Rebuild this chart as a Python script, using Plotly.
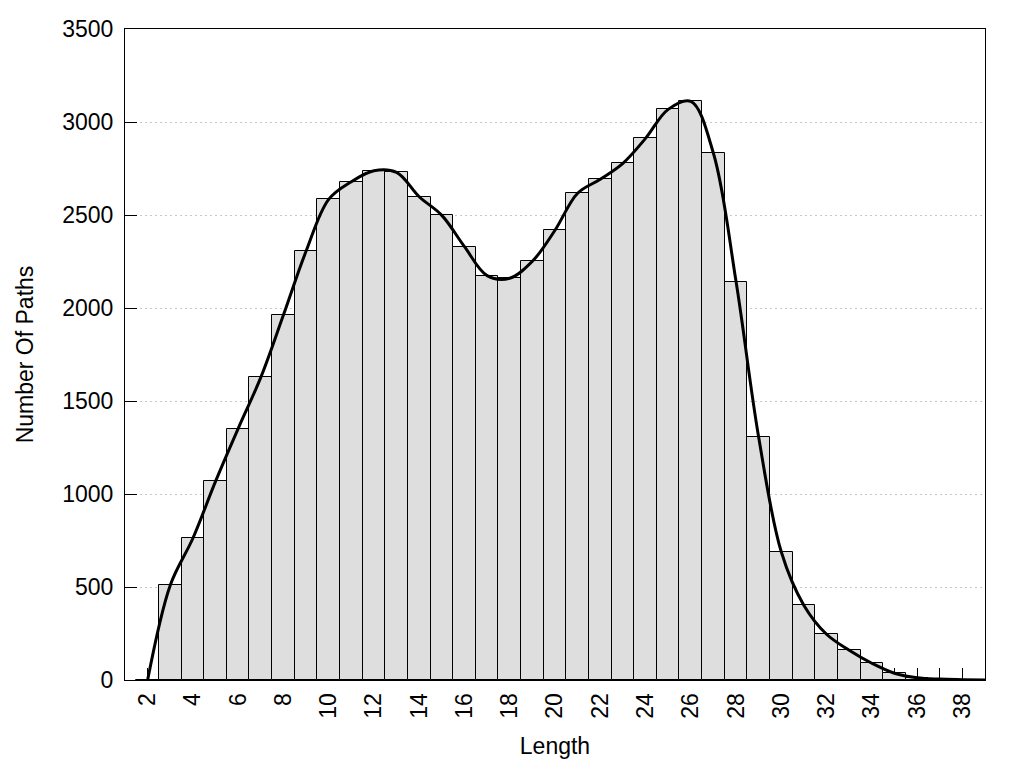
import plotly.graph_objects as go

lengths = list(range(2, 40))
counts = [0, 510, 762, 1068, 1352, 1627, 1962, 2305, 2584, 2679, 2738, 2729,
          2598, 2498, 2330, 2174, 2160, 2251, 2418, 2617, 2692, 2778, 2912,
          3068, 3111, 2832, 2142, 1305, 688, 401, 246, 160, 90, 36, 12, 5, 2, 0]

x_title = "Length"
y_title = "Number Of Paths"

font_family = "Liberation Sans, Arial, sans-serif"

fig = go.Figure()
fig.add_trace(go.Bar(
    x=lengths, y=counts, width=1,
    marker=dict(color="#dedede", line=dict(color="black", width=1)),
    showlegend=False,
))
fig.add_trace(go.Scatter(
    x=lengths, y=counts, mode="lines",
    line=dict(color="black", width=3, shape="spline", smoothing=1.0),
    showlegend=False,
))

fig.update_layout(
    width=1024, height=768,
    margin=dict(l=117, r=47, t=21, b=96),
    plot_bgcolor="white", paper_bgcolor="white",
    bargap=0,
    font=dict(family=font_family, size=23, color="black"),
)
fig.update_xaxes(
    range=[1, 39], tick0=2, dtick=2, tickangle=-90,
    ticks="inside", ticklen=12, tickcolor="black", tickwidth=1,
    minor=dict(dtick=1, tick0=1, ticks="inside", ticklen=12, tickcolor="black", tickwidth=1),
    showline=True, linecolor="black", linewidth=1, mirror=True,
    showgrid=False, zeroline=False, layer="below traces",
    automargin=False,
    ticklabelstandoff=3,
    title=dict(text=x_title, standoff=20, font=dict(size=23)),
    tickfont=dict(size=23),
)
fig.update_yaxes(
    range=[0, 3500], dtick=500,
    ticks="inside", ticklen=12, tickcolor="black", tickwidth=1,
    showline=True, linecolor="black", linewidth=1, mirror=True,
    showgrid=True, gridcolor="#c8c8c8", gridwidth=1, griddash="2px,3px",
    zeroline=False, layer="below traces",
    automargin=False,
    ticklabelstandoff=6,
    title=dict(text=y_title, standoff=22, font=dict(size=23)),
    tickfont=dict(size=23),
)

fig.write_html("out.html")
